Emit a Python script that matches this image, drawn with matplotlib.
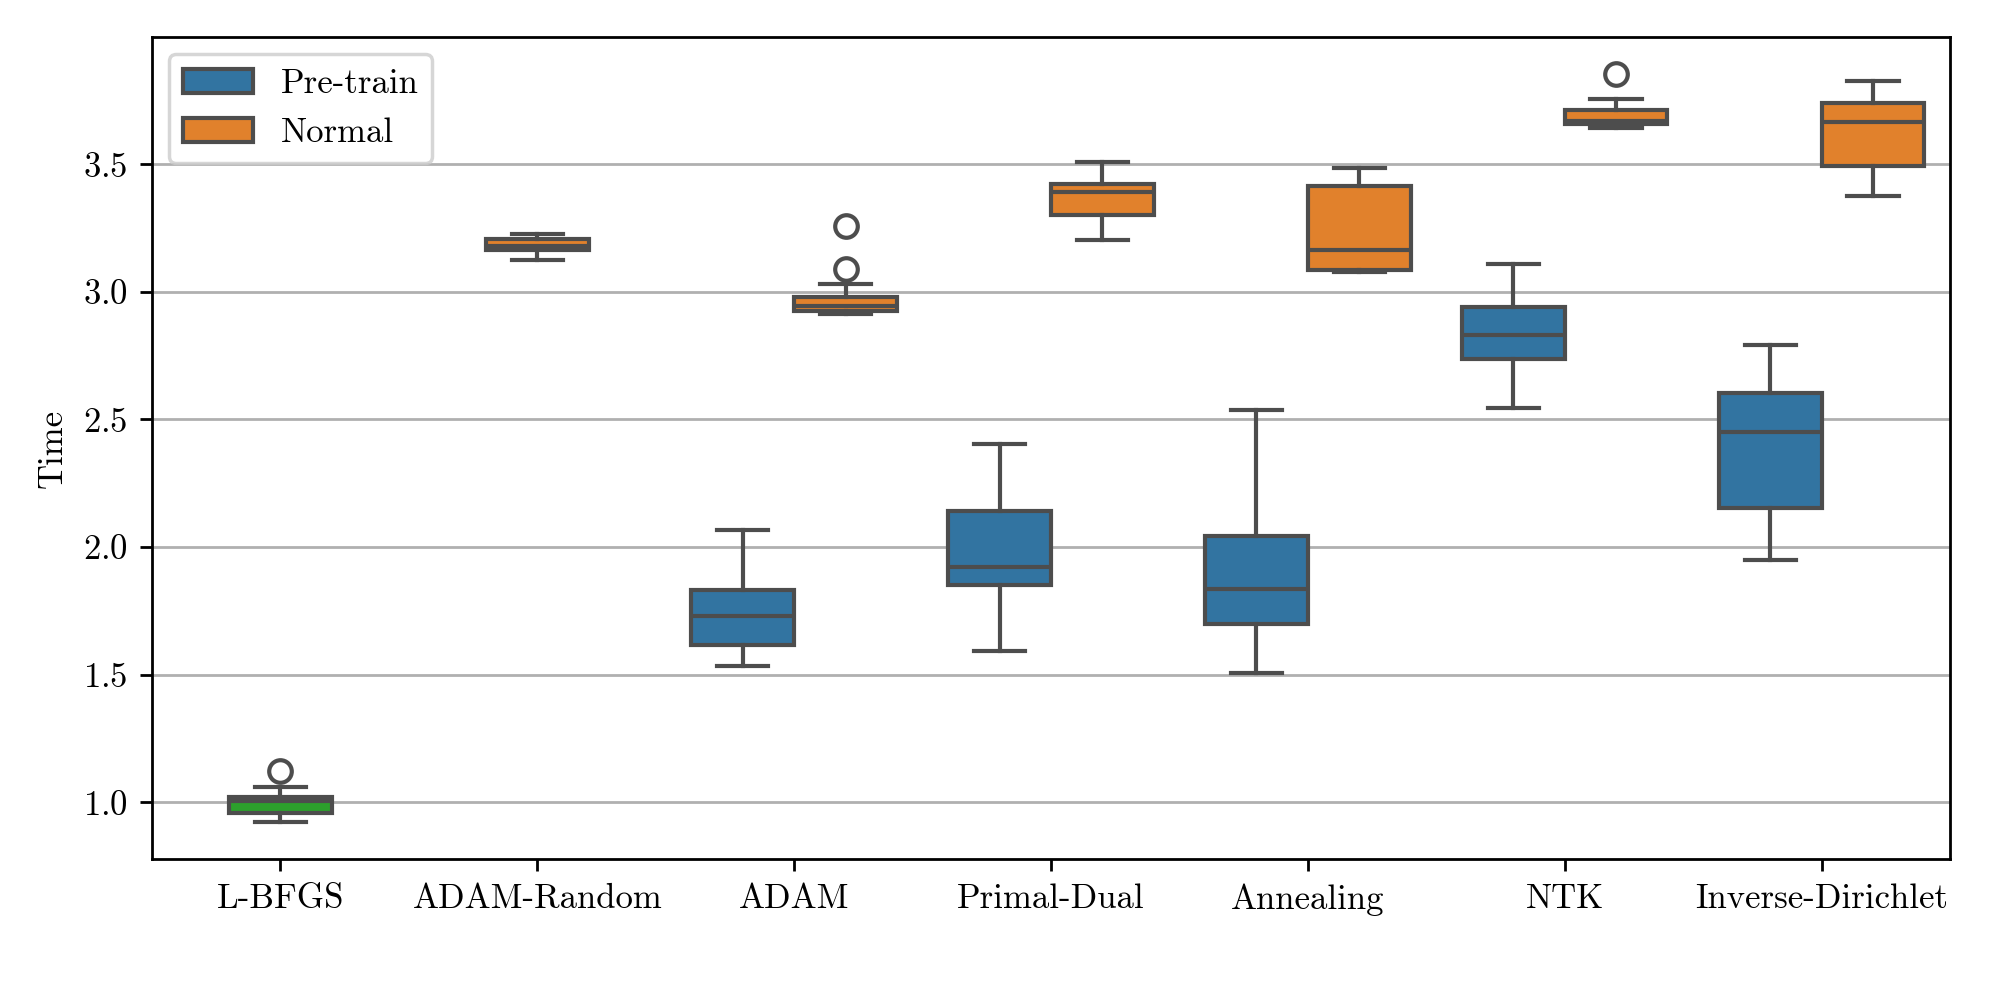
import matplotlib
matplotlib.use("Agg")
import matplotlib.pyplot as plt
from matplotlib.patches import Patch
import numpy as np

plt.rcParams["font.family"] = "serif"
plt.rcParams["font.serif"] = ["cmr10", "DejaVu Serif"]
plt.rcParams["axes.formatter.use_mathtext"] = True
plt.rcParams["font.size"] = 10

methods = ["L-BFGS", "ADAM-Random", "ADAM", "Primal-Dual", "Annealing", "NTK", "Inverse-Dirichlet"]

# box stats: (whislo, q1, med, q3, whishi)
lbfgs = [0.924, 0.958, 1.003, 1.021, 1.059]
lbfgs_fliers = [1.121]

pretrain = {
    "ADAM": [1.535, 1.615, 1.729, 1.833, 2.067],
    "Primal-Dual": [1.594, 1.853, 1.920, 2.141, 2.403],
    "Annealing": [1.507, 1.698, 1.836, 2.042, 2.535],
    "NTK": [2.546, 2.738, 2.831, 2.942, 3.110],
    "Inverse-Dirichlet": [1.949, 2.152, 2.451, 2.603, 2.792],
}
pretrain_fliers = {}

normal = {
    "ADAM-Random": [3.125, 3.162, 3.180, 3.205, 3.225],
    "ADAM": [2.915, 2.923, 2.945, 2.981, 3.030],
    "Primal-Dual": [3.202, 3.299, 3.390, 3.424, 3.508],
    "Annealing": [3.077, 3.085, 3.162, 3.413, 3.485],
    "NTK": [3.643, 3.657, 3.669, 3.714, 3.755],
    "Inverse-Dirichlet": [3.376, 3.493, 3.665, 3.741, 3.826],
}
normal_fliers = {"ADAM": [3.090, 3.258], "NTK": [3.852]}

c_pre = "#3274a1"
c_norm = "#e1812c"
c_green = "#2ca02c"
gray = "#4d4d4d"
lw = 1.2


def stats(v, fl):
    return dict(whislo=v[0], q1=v[1], med=v[2], q3=v[3], whishi=v[4], fliers=fl)


fig, ax = plt.subplots(figsize=(8, 4), dpi=250)
ax.grid(axis="y", color="#b0b0b0", lw=0.8, zorder=0)
ax.set_axisbelow(True)


def draw(st, pos, color):
    ax.bxp(
        st,
        positions=pos,
        widths=0.4,
        patch_artist=True,
        boxprops=dict(facecolor=color, edgecolor=gray, lw=lw),
        medianprops=dict(color=gray, lw=lw),
        whiskerprops=dict(color=gray, lw=lw),
        capprops=dict(color=gray, lw=lw),
        flierprops=dict(marker="o", markerfacecolor="none", markeredgecolor=gray,
                        markersize=6.5, markeredgewidth=lw),
        manage_ticks=False,
        zorder=2,
    )


draw([stats(lbfgs, lbfgs_fliers)], [0], c_green)

pos, st = [], []
for k, v in pretrain.items():
    i = methods.index(k)
    pos.append(i - 0.2)
    st.append(stats(v, pretrain_fliers.get(k, [])))
draw(st, pos, c_pre)

pos, st = [], []
for k, v in normal.items():
    i = methods.index(k)
    pos.append(i if k == "ADAM-Random" else i + 0.2)
    st.append(stats(v, normal_fliers.get(k, [])))
draw(st, pos, c_norm)

ax.set_xticks(range(len(methods)))
ax.set_xticklabels(methods)
ax.set_xlim(-0.5, len(methods) - 0.5)
ax.set_yticks([1.0, 1.5, 2.0, 2.5, 3.0, 3.5])
ax.set_ylabel("Time")

handles = [Patch(facecolor=c_pre, edgecolor=gray, lw=lw, label="Pre-train"),
           Patch(facecolor=c_norm, edgecolor=gray, lw=lw, label="Normal")]
ax.legend(handles=handles, loc="upper left")

fig.subplots_adjust(left=0.076, right=0.975, top=0.963, bottom=0.141)
fig.savefig("out.png")
